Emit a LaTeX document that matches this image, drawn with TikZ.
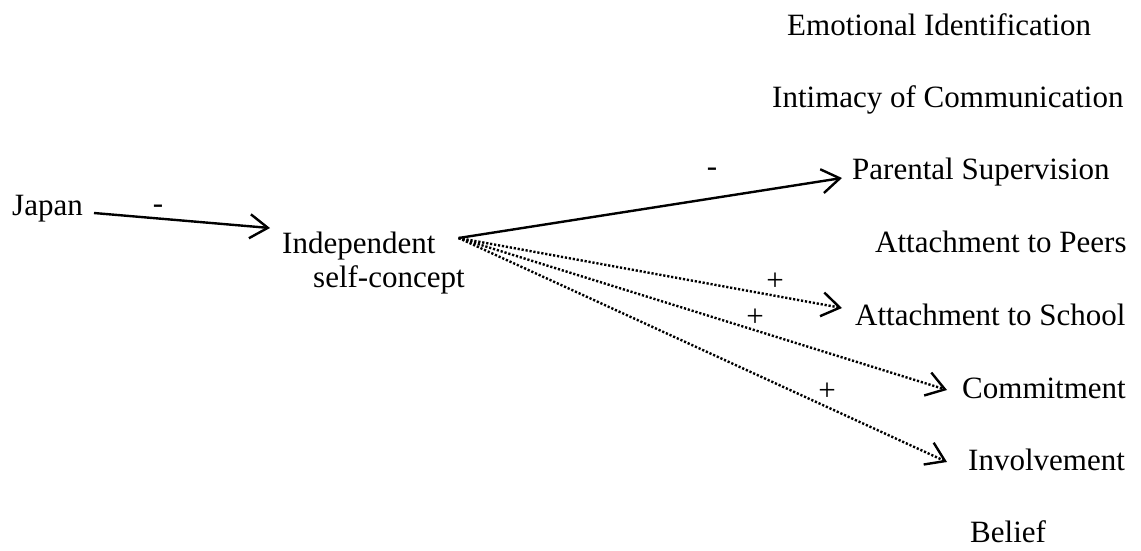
\documentclass[tikz,border=0pt]{standalone}
\usepackage{fontspec}
\setmainfont{Liberation Serif}
\usetikzlibrary{arrows.meta}
\begin{document}
\begin{tikzpicture}[x=1pt,y=-1pt,
  lbl/.style={anchor=base west,inner sep=0pt,font=\fontsize{31}{34}\selectfont},
  sign/.style={anchor=center,inner sep=0pt,font=\fontsize{31}{34}\selectfont},
  link/.style={line width=2.4pt,-{Straight Barb[length=18pt,width=24pt,line width=2.4pt]}},
  dotlink/.style={link,dash pattern=on 2.2pt off 1.8pt}]
\useasboundingbox (0,0) rectangle (1141,550);
% source and mediator
\node[lbl] (japan) at (12,215) {Japan};
\node[lbl] (ind)  at (282,253) {Independent};
\node[lbl] (ind2) at (313,287) {self-concept};
% outcome column
\node[lbl] (emo)  at (787,35)  {Emotional Identification};
\node[lbl] (inti) at (772,107) {Intimacy of Communication};
\node[lbl] (par)  at (852,179) {Parental Supervision};
\node[lbl] (peer) at (875,252) {Attachment to Peers};
\node[lbl] (sch)  at (855,325) {Attachment to School};
\node[lbl] (com)  at (962,398) {Commitment};
\node[lbl] (inv)  at (968,470) {Involvement};
\node[lbl] (bel)  at (970,542) {Belief};
% paths
\draw[link] ([shift={(11,-2)}]japan.base east) -- ([shift={(-12,-25)}]ind.base west);
\coordinate (hub) at ([shift={(23,-15)}]ind.base east);
\draw[link] (hub) -- ([shift={(-10,-1)}]par.base west);
\draw[dotlink] (hub) -- ([shift={(-13,-17)}]sch.base west);
\draw[dotlink] (hub) -- ([shift={(-15,-8)}]com.base west);
\draw[dotlink] (hub) -- ([shift={(-21,-8)}]inv.base west);
% signs
\node[sign] (s1) at (158,209) {-};
\node[sign] (s2) at (712,172) {-};
\node[sign] (s3) at (775,282) {+};
\node[sign] (s4) at (755,318) {+};
\node[sign] (s5) at (827,392) {+};
\end{tikzpicture}
\end{document}
